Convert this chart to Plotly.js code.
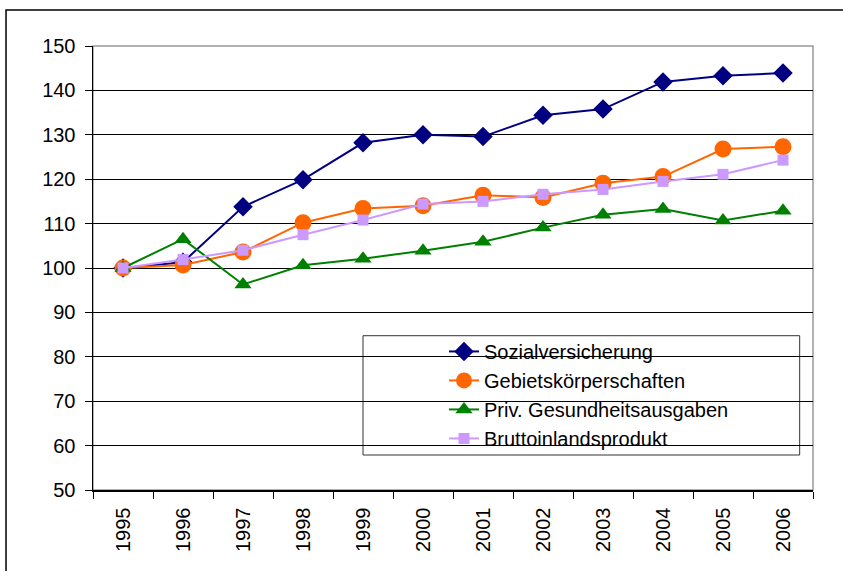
<!DOCTYPE html>
<html>
<head>
<meta charset="utf-8">
<script src="https://cdn.plot.ly/plotly-3.0.1.min.js"></script>
<style>html,body{margin:0;padding:0;background:#fff;}#chart{width:843px;height:571px;}</style>
</head>
<body>
<div id="chart"></div>
<script>
const years = ["1995","1996","1997","1998","1999","2000","2001","2002","2003","2004","2005","2006"];
const sozialversicherung = [100, 101.3, 113.8, 119.9, 128.2, 130.0, 129.6, 134.4, 135.8, 141.9, 143.3, 143.9];
const gebietskoerperschaften = [100, 100.7, 103.6, 110.2, 113.4, 114.0, 116.4, 115.9, 119.1, 120.6, 126.8, 127.3];
const privGesundheitsausgaben = [100, 106.5, 96.3, 100.6, 102.1, 103.9, 105.9, 109.1, 112.0, 113.3, 110.7, 112.9];
const bruttoinlandsprodukt = [100, 101.9, 104.0, 107.5, 110.8, 114.4, 115.0, 116.6, 117.7, 119.5, 121.1, 124.3];

const traces = [
  {name: "Sozialversicherung", x: years, y: sozialversicherung, type: "scatter", mode: "lines+markers",
   line: {color: "#000080", width: 2}, marker: {symbol: "diamond", size: 15, color: "#000080"}},
  {name: "Gebietskörperschaften", x: years, y: gebietskoerperschaften, type: "scatter", mode: "lines+markers",
   line: {color: "#FF6600", width: 2}, marker: {symbol: "circle", size: 17, color: "#FF6600"}},
  {name: "Priv. Gesundheitsausgaben", x: years, y: privGesundheitsausgaben, type: "scatter", mode: "lines+markers",
   line: {color: "#008000", width: 2}, marker: {symbol: "triangle-up", size: 15, color: "#008000"}},
  {name: "Bruttoinlandsprodukt", x: years, y: bruttoinlandsprodukt, type: "scatter", mode: "lines+markers",
   line: {color: "#CC99FF", width: 2}, marker: {symbol: "square", size: 11, color: "#CC99FF"}}
];

const layout = {
  width: 843, height: 571,
  margin: {l: 93, r: 30, t: 46, b: 81},
  paper_bgcolor: "#fff", plot_bgcolor: "#fff",
  font: {family: "Liberation Sans, Arial, sans-serif", color: "#000"},
  showlegend: true,
  legend: {x: 0.4875, y: 0.356, xanchor: "left", yanchor: "top", bgcolor: "rgba(0,0,0,0)",
           borderwidth: 0, font: {size: 20, color: "#000"}, itemwidth: 30, tracegroupgap: 0},
  xaxis: {type: "category", range: [-0.5, 11.5], tickson: "boundaries", ticks: "outside", ticklen: 7,
          tickcolor: "#000", tickangle: -90, ticklabelstandoff: 8,
          tickfont: {size: 20, family: "Liberation Sans Narrow, Liberation Sans, Arial, sans-serif"}, showgrid: false,
          showline: true, linecolor: "#000", linewidth: 1.5, zeroline: false, fixedrange: true},
  yaxis: {range: [50, 150], dtick: 10, ticks: "outside", ticklen: 7, tickcolor: "#000", ticklabelstandoff: 5,
          tickfont: {size: 20, family: "Liberation Sans Narrow, Liberation Sans, Arial, sans-serif"},
          showgrid: true, gridcolor: "#000", gridwidth: 1,
          showline: true, linecolor: "#000", linewidth: 1.5, zeroline: false, fixedrange: true},
  shapes: [
    {type: "rect", xref: "paper", yref: "paper", x0: 0, x1: 1, y0: 0, y1: 1,
     line: {color: "#999", width: 1.5}, layer: "below"},
    {type: "rect", xref: "paper", yref: "paper", x0: 0.375, x1: 0.9815, y0: 0.0788, y1: 0.3475,
     line: {color: "#333", width: 1}, fillcolor: "#fff", layer: "below"},
    {type: "rect", xref: "paper", yref: "paper", x0: -0.1208, x1: 1.1, y0: -0.3, y1: 1.081,
     line: {color: "#000", width: 1.5}, layer: "above"}
  ]
};

Plotly.newPlot("chart", traces, layout, {displayModeBar: false, staticPlot: true});
</script>
</body>
</html>
